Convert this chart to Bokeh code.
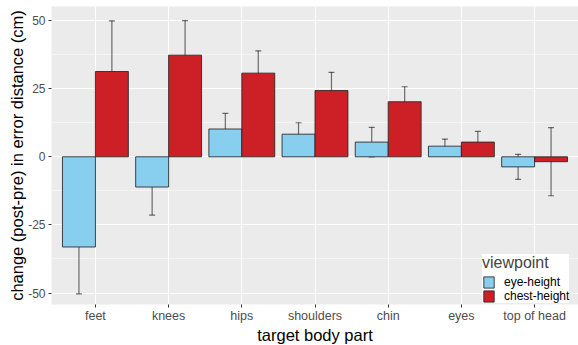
from bokeh.plotting import figure
from bokeh.models import (ColumnDataSource, FactorRange, Whisker, TeeHead, Legend,
                          LegendItem, FixedTicker, Range1d, Title)
from bokeh.transform import dodge
from bokeh.embed import file_html
from bokeh.resources import INLINE

categories = ["feet", "knees", "hips", "shoulders", "chin", "eyes", "top of head"]
viewpoints = ["eye-height", "chest-height"]
eye_mean = [-33.1, -11.1, 10.2, 8.3, 5.4, 3.9, -3.7]
eye_err = [17.2, 10.3, 5.7, 4.2, 5.4, 2.6, 4.6]
chest_mean = [31.3, 37.3, 30.7, 24.3, 20.2, 5.4, -1.8]
chest_err = [18.6, 12.7, 8.2, 6.7, 5.5, 3.9, 12.5]
y_ticks = [-50, -25, 0, 25, 50]
y_tick_labels = ["-50", "-25", "0", "25", "50"]
y_minor = [-37.5, -12.5, 12.5, 37.5]
colors = ["#88CEEE", "#CC1F26"]
x_title = "target body part"
y_title = "change (post-pre) in error distance (cm)"

FONT = "Liberation Sans"

src_eye = ColumnDataSource(dict(cat=categories, m=eye_mean,
                                lo=[m - e for m, e in zip(eye_mean, eye_err)],
                                hi=[m + e for m, e in zip(eye_mean, eye_err)]))
src_chest = ColumnDataSource(dict(cat=categories, m=chest_mean,
                                  lo=[m - e for m, e in zip(chest_mean, chest_err)],
                                  hi=[m + e for m, e in zip(chest_mean, chest_err)]))

x_range = FactorRange(factors=categories, range_padding=0.1, range_padding_units="absolute")
p = figure(width=578, height=345, x_range=x_range, y_range=Range1d(-54.2, 55.15),
           output_backend="svg", toolbar_location=None,
           min_border_left=51, min_border_right=0, min_border_top=6, min_border_bottom=39)

p.background_fill_color = "#EBEBEB"
p.border_fill_color = "white"
p.outline_line_color = None

bw = 0.45
r_eye = p.vbar(x=dodge("cat", -bw / 2, range=x_range), top="m", bottom=0, width=bw,
               source=src_eye, fill_color=colors[0], line_color="#262626", line_alpha=0.85,
               line_width=1)
r_chest = p.vbar(x=dodge("cat", bw / 2, range=x_range), top="m", bottom=0, width=bw,
                 source=src_chest, fill_color=colors[1], line_color="#262626", line_alpha=0.85,
                 line_width=1)

for src, off in ((src_eye, -bw / 2), (src_chest, bw / 2)):
    w = Whisker(base=dodge("cat", off, range=x_range), lower="lo", upper="hi", source=src,
                line_color="black", line_alpha=0.55, line_width=1.2,
                lower_head=TeeHead(size=6, line_color="black", line_alpha=0.55, line_width=1.2),
                upper_head=TeeHead(size=6, line_color="black", line_alpha=0.55, line_width=1.2))
    p.add_layout(w)

# grid
p.ygrid.ticker = FixedTicker(ticks=y_ticks, minor_ticks=y_minor)
p.yaxis.ticker = FixedTicker(ticks=y_ticks, minor_ticks=y_minor)
p.yaxis.major_label_overrides = dict(zip(y_ticks, y_tick_labels))
p.xgrid.grid_line_color = "white"
p.xgrid.grid_line_width = 1.1
p.ygrid.grid_line_color = "white"
p.ygrid.grid_line_width = 1.1
p.ygrid.minor_grid_line_color = "white"
p.ygrid.minor_grid_line_width = 0.5

for ax in (p.xaxis, p.yaxis):
    ax.axis_line_color = None
    ax.major_tick_line_color = "#333333"
    ax.major_tick_in = 0
    ax.major_tick_out = 3
    ax.minor_tick_line_color = None
    ax.major_label_text_font = FONT
    ax.major_label_text_color = "#4D4D4D"

p.xaxis.major_label_text_font_size = "12.5px"
p.yaxis.major_label_text_font_size = "12px"
p.xaxis.major_label_standoff = 1
p.yaxis.major_label_standoff = 2

# axis titles as side titles
p.add_layout(Title(text=x_title, align="center", text_font=FONT, text_font_size="16.5px",
                   text_font_style="normal", text_color="black", standoff=0, offset=0,
                   text_line_height=1.0, vertical_align="top"),
             "below")
p.add_layout(Title(text=y_title, align="center", text_font=FONT, text_font_size="16.5px",
                   text_font_style="normal", text_color="black", standoff=0, offset=0,
                   text_line_height=1.0),
             "left")

legend = Legend(items=[LegendItem(label=viewpoints[0], renderers=[r_eye]),
                       LegendItem(label=viewpoints[1], renderers=[r_chest])],
                location=(431, 1), title="viewpoint",
                title_text_font=FONT, title_text_font_size="16px", title_text_font_style="normal",
                title_standoff=3,
                label_text_font=FONT, label_text_font_size="12px", label_text_color="black",
                glyph_width=13, glyph_height=14, spacing=0, label_height=14,
                label_standoff=9, padding=5, margin=0,
                background_fill_color="white", background_fill_alpha=1,
                border_line_color=None)
p.add_layout(legend, "center")

open("out.html", "w").write(file_html(p, INLINE))
